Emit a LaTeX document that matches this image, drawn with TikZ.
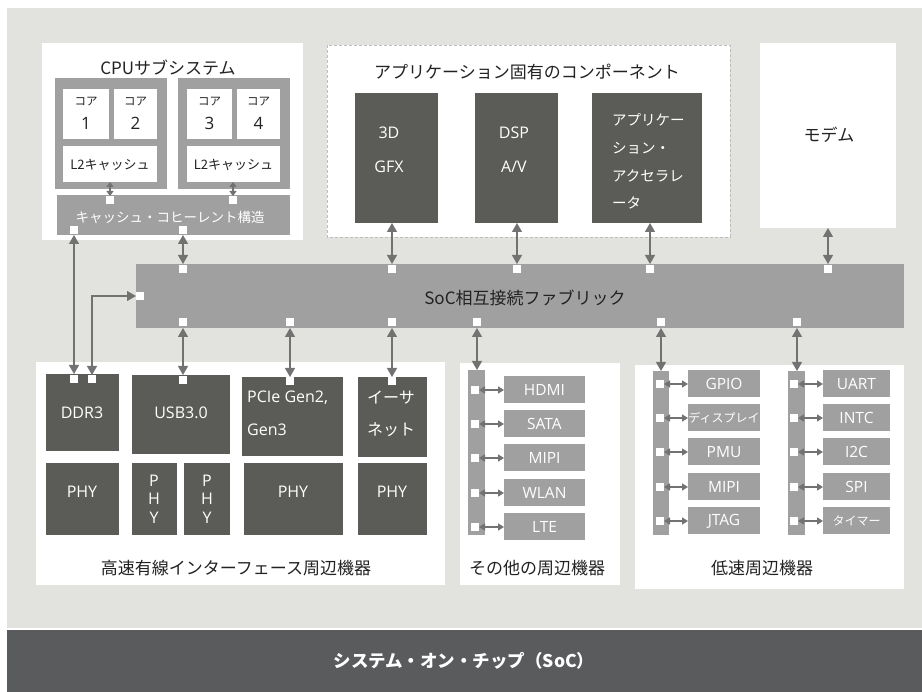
\documentclass[tikz,border=0pt]{standalone}
\usepackage{fontspec}
\setmainfont{Noto Sans CJK JP}
\newfontfamily\lat{Open Sans}
\usetikzlibrary{arrows.meta,fit}
\definecolor{bgc}{HTML}{E2E2DF}
\definecolor{midg}{HTML}{A0A0A0}
\definecolor{dk}{HTML}{5B5B57}
\definecolor{arrc}{HTML}{727272}
\definecolor{band}{HTML}{5A5B5D}
\definecolor{dashc}{HTML}{BDBDBD}
\definecolor{txt}{HTML}{222222}
\newcommand\fs[1]{\fontsize{#1}{#1}\selectfont}
\begin{document}
\begin{tikzpicture}[x=1pt,y=-1pt,
  box/.style={inner sep=0pt, outer sep=0pt, draw=none},
  whitebox/.style={box, fill=white},
  midbox/.style={box, fill=midg},
  darkbox/.style={box, fill=dk},
  sq/.style={fill=white, minimum size=8pt, inner sep=0pt, outer sep=0pt},
  arr/.style={draw=arrc, line width=1.3pt, {Triangle[length=9pt,width=10pt]}-{Triangle[length=9pt,width=10pt]}},
  sarr/.style={draw=arrc, line width=1.4pt, {Triangle[length=6pt,width=7pt]}-{Triangle[length=6pt,width=7pt]}},
  title/.style={inner sep=0pt, text=txt, font=\fs{17}},
  wtxt/.style={inner sep=0pt, text=white, font=\lat\fs{16}},
  wjtxt/.style={inner sep=0pt, text=white, font=\fs{16}},
  itxt/.style={inner sep=0pt, text=white, font=\lat\fs{15.5}},
  ijtxt/.style={inner sep=0pt, text=white, font=\fs{12}},
]
\useasboundingbox (0,0) rectangle (922,692);
% background
\fill[bgc] (7,8) rectangle (922,628);
\fill[band] (7,630) rectangle (922,692);
\node[inner sep=0pt, text=white, font=\bfseries\fs{17.5}] (soc) at (464,661) {システム・オン・チップ（SoC）};

% ---------- CPU subsystem ----------
\node[whitebox, fit={(42,43) (303,240)}] (cpu) {};
\node[title] (cputitle) at (168,68) {CPUサブシステム};
\node[midbox, fit={(55,78) (167,189)}] (cl1) {};
\node[midbox, fit={(178,78) (290,189)}] (cl2) {};
\node[whitebox, fit={(63,89) (109,139)}] (c1) {};
\node[whitebox, fit={(114,89) (157,139)}] (c2) {};
\node[whitebox, fit={(187,89) (232,139)}] (c3) {};
\node[whitebox, fit={(237,89) (280,139)}] (c4) {};
\node[whitebox, fit={(63,146) (157,182)}] (l2a) {};
\node[whitebox, fit={(187,146) (280,182)}] (l2b) {};
\foreach \n/\d in {c1/1,c2/2,c3/3,c4/4}{
  \node[inner sep=0pt, text=txt, font=\fs{11.5}] at ([yshift=12pt]\n.center) {コア};
  \node[inner sep=0pt, text=txt, font=\lat\fs{17}] at ([yshift=-9pt]\n.center) {\d};
}
\node[inner sep=0pt, text=txt, font=\fs{13}] at ([yshift=-1pt]l2a.center) {L2キャッシュ};
\node[inner sep=0pt, text=txt, font=\fs{13}] at ([yshift=-1pt]l2b.center) {L2キャッシュ};
\node[midbox, fit={(57,195) (290,235)}] (cbar) {};
\node[inner sep=0pt, text=white, font=\fs{13.5}] at (170,217) {キャッシュ・コヒーレント構造};
\node[sq] (ct1) at (110,200) {};
\node[sq] (ct2) at (233,200) {};
\node[sq] (cb1) at (74,230) {};
\node[sq] (cb2) at (183,230) {};
\draw[sarr, {Triangle[length=5pt,width=7pt]}-{Triangle[length=5pt,width=7pt]}] (l2a.south -| ct1) -- (ct1.north);
\draw[sarr, {Triangle[length=5pt,width=7pt]}-{Triangle[length=5pt,width=7pt]}] (l2b.south -| ct2) -- (ct2.north);

% ---------- Application specific ----------
\node[whitebox, fit={(327,45) (730,237)}] (app) {};
\draw[dashc, line width=0.8pt, dash pattern=on 3pt off 2pt] (app.north west) rectangle (app.south east);
\node[title] (apptitle) at (527,72) {アプリケーション固有のコンポーネント};
\node[darkbox, fit={(355,93) (438,223)}] (gfx) {};
\node[darkbox, fit={(475,93) (558,223)}] (dsp) {};
\node[darkbox, fit={(592,93) (702,223)}] (acc) {};
\node[wtxt] at (389,133) {3D};
\node[wtxt] at (389,167) {GFX};
\node[wtxt] at (514,133) {DSP};
\node[wtxt] at (514,167) {A/V};
\node[ijtxt, font=\fs{14.5}, anchor=west] at (612,120) {アプリケー};
\node[ijtxt, font=\fs{14.5}, anchor=west] at (612,148) {ション・};
\node[ijtxt, font=\fs{14.5}, anchor=west] at (612,176) {アクセラレ};
\node[ijtxt, font=\fs{14.5}, anchor=west] at (612,203) {ータ};

% ---------- Modem ----------
\node[whitebox, fit={(760,43) (896,228)}] (modem) {};
\node[title] at (829,135) {モデム};

% ---------- Fabric ----------
\node[midbox, fit={(136,264) (904,328)}] (fab) {};
\node[inner sep=0pt, text=txt, font=\fs{17}] at (525,298) {SoC相互接続ファブリック};
\node[sq] (ft1) at (183,269) {};
\node[sq] (ft2) at (392,269) {};
\node[sq] (ft3) at (517,269) {};
\node[sq] (ft4) at (650,269) {};
\node[sq] (ft5) at (828,269) {};
\node[sq] (fl) at (140,296) {};
\node[sq] (fb1) at (183,322) {};
\node[sq] (fb2) at (290,322) {};
\node[sq] (fb3) at (392,322) {};
\node[sq] (fb4) at (477,322) {};
\node[sq] (fb5) at (661,322) {};
\node[sq] (fb6) at (797,322) {};

% top arrows
\draw[arr] (cbar.south -| ft1) -- (fab.north -| ft1);
\draw[arr] (gfx.south -| ft2) -- (fab.north -| ft2);
\draw[arr] (dsp.south -| ft3) -- (fab.north -| ft3);
\draw[arr] (acc.south -| ft4) -- (fab.north -| ft4);
\draw[arr] (modem.south -| ft5) -- (fab.north -| ft5);

% ---------- High speed ----------
\node[whitebox, fit={(36,362) (445,585)}] (hs) {};
\node[title] at (236,568) {高速有線インターフェース周辺機器};
\node[darkbox, fit={(46,374) (119,451)}] (ddr) {};
\node[darkbox, fit={(132,375) (230,454)}] (usb) {};
\node[darkbox, fit={(242,377) (343,456)}] (pcie) {};
\node[darkbox, fit={(358,377) (427,457)}] (eth) {};
\node[darkbox, fit={(46,463) (119,535)}] (phy1) {};
\node[darkbox, fit={(132,463) (177,535)}] (phy2) {};
\node[darkbox, fit={(184,463) (230,535)}] (phy3) {};
\node[darkbox, fit={(244,463) (343,535)}] (phy4) {};
\node[darkbox, fit={(358,463) (427,535)}] (phy5) {};
\node[sq] (d1) at (74,379) {};
\node[sq] (d2) at (92,379) {};
\node[sq] (u1) at (183,380) {};
\node[sq] (p1) at (290,381) {};
\node[sq] (e1) at (392,381) {};
\node[wtxt] at (82,413) {DDR3};
\node[wtxt] at (181,413) {USB3.0};
\node[wtxt, anchor=west] at (247,398) {PCIe Gen2,};
\node[wtxt, anchor=west] at (247,430) {Gen3};
\node[wjtxt] at (391,398) {イーサ};
\node[wjtxt] at (391,430) {ネット};
\node[wtxt] at (82,492) {PHY};
\node[wtxt] at (293,492) {PHY};
\node[wtxt] at (392,492) {PHY};
\node[wtxt, font=\lat\fontsize{16}{18.5}\selectfont, align=center] at (154,499) {P\\H\\Y};
\node[wtxt, font=\lat\fontsize{16}{18.5}\selectfont, align=center] at (207,499) {P\\H\\Y};

\draw[arr] (cbar.south -| cb1) -- (ddr.north -| d1);
\draw[arr] (fl.west) -| (d2.north);
\draw[arr] (fab.south -| fb1) -- (usb.north -| u1);
\draw[arr] (fab.south -| fb2) -- (pcie.north -| p1);
\draw[arr] (fab.south -| fb3) -- (eth.north -| e1);

% ---------- Other peripherals ----------
\node[whitebox, fit={(460,363) (620,585)}] (oth) {};
\node[title] at (537,568) {その他の周辺機器};
\node[midbox, fit={(468,370) (485,535)}] (obar) {};
\foreach \i/\y/\t in {1/390/HDMI,2/424/SATA,3/458/MIPI,4/493/WLAN,5/527/LTE}{
  \node[sq] (os\i) at (475,\y) {};
  \node[midbox, minimum width=81pt, minimum height=27pt] (oi\i) at (544.5,\y) {};
  \node[itxt] at (oi\i.center) {\t};
  \draw[sarr] (os\i.east) -- (oi\i.west);
}
\draw[arr] (fab.south -| fb4) -- (obar.north -| fb4);

% ---------- Low speed ----------
\node[whitebox, fit={(635,365) (904,589)}] (ls) {};
\node[title] at (762,568) {低速周辺機器};
\node[midbox, fit={(653,371) (669,535)}] (lbar1) {};
\node[midbox, fit={(788,371) (805,535)}] (lbar2) {};
\foreach \i/\y/\t in {1/384/GPIO,3/452/PMU,4/487/MIPI,5/521/JTAG}{
  \node[sq] (la\i) at (660,\y) {};
  \node[midbox, minimum width=72pt, minimum height=27pt] (lia\i) at (724,\y) {};
  \node[itxt] at (lia\i.center) {\t};
  \draw[sarr] (la\i.east) -- (lia\i.west);
}
\node[sq] (la2) at (660,418) {};
\node[midbox, minimum width=72pt, minimum height=27pt] (lia2) at (724,418) {};
\node[ijtxt] at (lia2.center) {ディスプレイ};
\draw[sarr] (la2.east) -- (lia2.west);
\foreach \i/\y/\t in {1/384/UART,2/418/INTC,3/452/I2C,4/487/SPI}{
  \node[sq] (lb\i) at (794,\y) {};
  \node[midbox, minimum width=67pt, minimum height=27pt] (lib\i) at (856.5,\y) {};
  \node[itxt] at (lib\i.center) {\t};
  \draw[sarr] (lb\i.east) -- (lib\i.west);
}
\node[sq] (lb5) at (794,521) {};
\node[midbox, minimum width=67pt, minimum height=27pt] (lib5) at (856.5,521) {};
\node[ijtxt] at (lib5.center) {タイマー};
\draw[sarr] (lb5.east) -- (lib5.west);
\draw[arr] (fab.south -| fb5) -- (lbar1.north -| fb5);
\draw[arr] (fab.south -| fb6) -- (lbar2.north -| fb6);
\end{tikzpicture}
\end{document}
